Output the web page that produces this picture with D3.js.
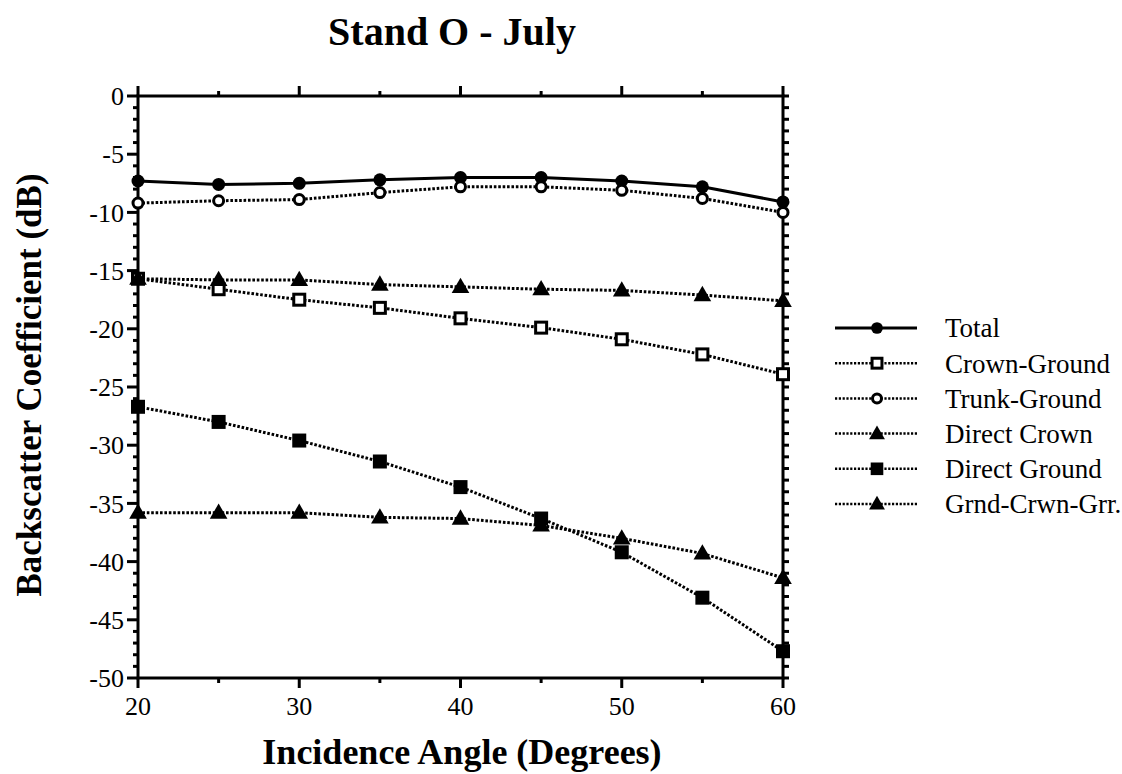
<!DOCTYPE html>
<html>
<head>
<meta charset="utf-8">
<script src="https://cdn.jsdelivr.net/npm/d3@7"></script>
<style>
  body { margin: 0; background: #fff; }
  svg { display: block; }
  text { font-family: "Liberation Serif", "Times New Roman", serif; fill: #000; }
</style>
</head>
<body>
<svg id="chart" width="1122" height="774"></svg>
<script>
// incidence angles (degrees)
var angles = [20, 25, 30, 35, 40, 45, 50, 55, 60];

// backscatter (dB) per mechanism
var total        = [-7.3, -7.6, -7.5, -7.2, -7.0, -7.0, -7.3, -7.8, -9.1];
var crownGround  = [-15.7, -16.6, -17.5, -18.2, -19.1, -19.9, -20.9, -22.2, -23.9];
var trunkGround  = [-9.2, -9.0, -8.9, -8.3, -7.8, -7.8, -8.1, -8.8, -10.0];
var directCrown  = [-15.7, -15.8, -15.8, -16.2, -16.4, -16.6, -16.7, -17.1, -17.6];
var directGround = [-26.7, -28.0, -29.6, -31.4, -33.6, -36.3, -39.2, -43.1, -47.7];
var gcg          = [-35.8, -35.8, -35.8, -36.2, -36.3, -36.9, -38.0, -39.3, -41.4];

var seriesNames = ['Total', 'Crown-Ground', 'Trunk-Ground', 'Direct Crown', 'Direct Ground', 'Grnd-Crwn-Grr.'];
var seriesMarks = ['dot', 'openSquare', 'openCircle', 'triangle', 'square', 'triangle'];
var seriesVals  = [total, crownGround, trunkGround, directCrown, directGround, gcg];

var xTicks = [20, 30, 40, 50, 60];
var yTicks = [0, -5, -10, -15, -20, -25, -30, -35, -40, -45, -50];

var svg = d3.select('#chart');
var plotLeft = 138, plotTop = 96, plotRight = 783, plotBottom = 678;

var x = d3.scaleLinear().domain([20, 60]).range([plotLeft, plotRight]);
var y = d3.scaleLinear().domain([-50, 0]).range([plotBottom, plotTop]);

// frame
var frame = svg.append('g').attr('stroke', '#000').attr('stroke-width', 3).attr('fill', 'none');
frame.append('rect').attr('x', plotLeft).attr('y', plotTop)
    .attr('width', plotRight - plotLeft).attr('height', plotBottom - plotTop);

// minor + major ticks on left and right
d3.range(-50, 1, 1).forEach(function (v) {
    var major = v % 5 === 0;
    var len = major ? 11 : 5;
    frame.append('line').attr('x1', plotLeft - len).attr('x2', plotLeft).attr('y1', y(v)).attr('y2', y(v));
    frame.append('line').attr('x1', plotRight).attr('x2', plotRight + 6).attr('y1', y(v)).attr('y2', y(v));
});
// ticks along top and bottom
d3.range(20, 61, 5).forEach(function (v) {
    var major = v % 10 === 0;
    var len = major ? 10 : 5;
    frame.append('line').attr('x1', x(v)).attr('x2', x(v)).attr('y1', plotBottom).attr('y2', plotBottom + len);
    frame.append('line').attr('x1', x(v)).attr('x2', x(v)).attr('y1', plotTop - len).attr('y2', plotTop);
});

// tick labels
svg.append('g').selectAll('text').data(yTicks).enter().append('text')
    .attr('x', plotLeft - 14).attr('y', function (d) { return y(d); })
    .attr('dy', '0.35em').attr('text-anchor', 'end')
    .style('font-size', '26px')
    .text(function (d) { return d; });

svg.append('g').selectAll('text').data(xTicks).enter().append('text')
    .attr('x', function (d) { return x(d); }).attr('y', plotBottom + 37)
    .attr('text-anchor', 'middle')
    .style('font-size', '26px')
    .text(function (d) { return d; });

// titles
svg.append('text').attr('x', 452).attr('y', 45).attr('text-anchor', 'middle')
    .style('font-size', '40px').style('font-weight', 'bold').text('Stand O - July');
svg.append('text').attr('x', 462).attr('y', 764).attr('text-anchor', 'middle')
    .style('font-size', '36px').style('font-weight', 'bold').text('Incidence Angle (Degrees)');
svg.append('text').attr('transform', 'translate(41,' + ((plotTop + plotBottom) / 2 - 2) + ') rotate(-90)')
    .attr('text-anchor', 'middle')
    .style('font-size', '35px').style('font-weight', 'bold').text('Backscatter Coefficient (dB)');

function drawMark(g, kind, cx, cy, s) {
    s = s || 1;
    if (kind === 'dot') {
        g.append('circle').attr('cx', cx).attr('cy', cy).attr('r', 6.5 * s).attr('fill', '#000');
    } else if (kind === 'openCircle') {
        g.append('circle').attr('cx', cx).attr('cy', cy).attr('r', 5 * s)
            .attr('fill', '#fff').attr('stroke', '#000').attr('stroke-width', 3);
    } else if (kind === 'openSquare') {
        g.append('rect').attr('x', cx - 5.5 * s).attr('y', cy - 5.5 * s).attr('width', 11 * s).attr('height', 11 * s)
            .attr('fill', '#fff').attr('stroke', '#000').attr('stroke-width', 3);
    } else if (kind === 'square') {
        g.append('rect').attr('x', cx - 7 * s).attr('y', cy - 7 * s).attr('width', 14 * s).attr('height', 14 * s)
            .attr('fill', '#000');
    } else if (kind === 'triangle') {
        g.append('path').attr('d', d3.symbol().type(d3.symbolTriangle).size(135 * s * s)())
            .attr('transform', 'translate(' + cx + ',' + (cy + 1) + ')').attr('fill', '#000');
    }
}

var line = d3.line().x(function (d, i) { return x(angles[i]); }).y(function (d) { return y(d); });

var plot = svg.append('g');
seriesVals.forEach(function (vals, k) {
    plot.append('path').datum(vals).attr('d', line)
        .attr('fill', 'none').attr('stroke', '#000')
        .attr('stroke-width', 3)
        .attr('stroke-dasharray', k === 0 ? null : '2.6,1.8');
});
seriesVals.forEach(function (vals, k) {
    var g = plot.append('g');
    vals.forEach(function (v, i) { drawMark(g, seriesMarks[k], x(angles[i]), y(v)); });
});

// legend
var legend = svg.append('g');
seriesNames.forEach(function (name, k) {
    var ly = 328 + k * 35.2;
    legend.append('line').attr('x1', 835).attr('x2', 917).attr('y1', ly).attr('y2', ly)
        .attr('stroke', '#000').attr('stroke-width', k === 0 ? 3 : 2.5)
        .attr('stroke-dasharray', k === 0 ? null : '2.2,1.6');
    drawMark(legend, seriesMarks[k], 877, ly, 0.9);
    legend.append('text').attr('x', 945).attr('y', ly).attr('dy', '0.35em')
        .style('font-size', '27px').text(name);
});
</script>
</body>
</html>
